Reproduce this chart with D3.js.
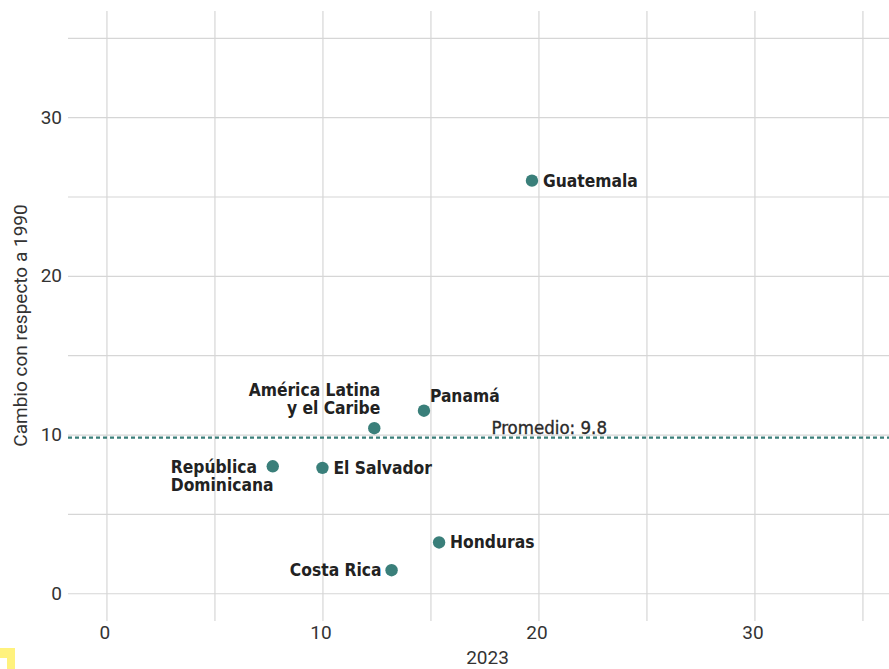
<!DOCTYPE html>
<html>
<head>
<meta charset="utf-8">
<script src="https://cdn.jsdelivr.net/npm/d3@7"></script>
<style>
  html, body { margin: 0; padding: 0; background: #fff; }
  svg { display: block; }
</style>
</head>
<body>
<svg id="chart" width="889" height="669"></svg>
<script>
// Data
const countries = ["Guatemala", "Panamá", "América Latina y el Caribe", "República Dominicana", "El Salvador", "Honduras", "Costa Rica"];
const xValues = [19.7, 14.7, 12.4, 7.7, 10.0, 15.4, 13.2];   // 2023
const yValues = [26.0, 11.5, 10.4, 8.0, 7.9, 3.2, 1.45];      // cambio con respecto a 1990
const labelLines = [["Guatemala"], ["Panamá"], ["América Latina", "y el Caribe"], ["República", "Dominicana"], ["El Salvador"], ["Honduras"], ["Costa Rica"]];
const labelPos = ["right", "upright", "upleft", "left2", "right", "right", "left"];
const gridTicks = [0, 5, 10, 15, 20, 25, 30, 35];
const tickLabels = [0, 10, 20, 30];
const averageValue = 9.8;
const averageLabel = "Promedio: 9.8";
const xTitle = "2023";
const yTitle = "Cambio con respecto a 1990";

(function () {
const svg = d3.select("#chart");
const mLeft = 68, mRight = 889, mTop = 11, mBottom = 621;

const x = d3.scaleLinear().domain([-1.78, 36.23]).range([mLeft, mRight]);
const y = d3.scaleLinear().domain([-1.75, 36.69]).range([mBottom, mTop]);

const gridColor = "#d6d6d6";
const tickFont = "Roboto, 'Noto Sans', sans-serif";
const labelFont = "'DejaVu Sans Condensed', 'Liberation Sans Narrow', sans-serif";

// Vertical gridlines
svg.append("g").attr("class", "xgrid")
  .attr("transform", `translate(0,${mTop})`)
  .call(d3.axisBottom(x).tickValues(gridTicks).tickSize(mBottom - mTop).tickFormat(""))
  .call(g => g.select(".domain").remove())
  .call(g => g.selectAll("line").attr("stroke", gridColor).attr("stroke-width", 1.2));

// Horizontal gridlines
svg.append("g").attr("class", "ygrid")
  .attr("transform", `translate(${mLeft},0)`)
  .call(d3.axisRight(y).tickValues(gridTicks).tickSize(mRight - mLeft).tickFormat(""))
  .call(g => g.select(".domain").remove())
  .call(g => g.selectAll("line").attr("stroke", gridColor).attr("stroke-width", 1.2));

// Y tick labels
svg.append("g")
  .attr("transform", `translate(${mLeft},0)`)
  .call(d3.axisLeft(y).tickValues(tickLabels).tickSize(0).tickPadding(6))
  .call(g => g.select(".domain").remove())
  .call(g => g.selectAll("text").attr("font-family", tickFont).attr("font-size", 19).attr("fill", "#333"));

// X tick labels
svg.append("g")
  .attr("transform", `translate(0,${mBottom})`)
  .call(d3.axisBottom(x).tickValues(tickLabels).tickSize(0).tickPadding(4))
  .call(g => g.select(".domain").remove())
  .call(g => g.selectAll("text").attr("font-family", tickFont).attr("font-size", 19).attr("fill", "#333").attr("dx", -2));

// Axis titles
svg.append("text")
  .attr("x", (mLeft + mRight) / 2 + 9)
  .attr("y", 664)
  .attr("text-anchor", "middle")
  .attr("font-family", tickFont).attr("font-size", 19).attr("fill", "#333")
  .text(xTitle);

svg.append("text")
  .attr("transform", `translate(27,${(205 + 446) / 2}) rotate(-90)`)
  .attr("text-anchor", "middle")
  .attr("font-family", tickFont).attr("font-size", 19).attr("fill", "#333")
  .text(yTitle);

// Average line
svg.append("line")
  .attr("x1", mLeft).attr("x2", mRight)
  .attr("y1", y(averageValue)).attr("y2", y(averageValue))
  .attr("stroke", "#3a7f7a").attr("stroke-width", 2.2)
  .attr("stroke-dasharray", "4,3");

svg.append("text")
  .attr("x", x(20.5))
  .attr("y", y(averageValue) - 4)
  .attr("text-anchor", "middle")
  .attr("font-family", labelFont).attr("font-size", 18.5).attr("fill", "#2a2a2a")
  .attr("stroke", "#2a2a2a").attr("stroke-width", 0.35)
  .text(averageLabel);

// Points
const data = countries.map((c, i) => ({ name: c, x: xValues[i], y: yValues[i], lines: labelLines[i], pos: labelPos[i] }));

svg.append("g").selectAll("circle")
  .data(data).join("circle")
  .attr("cx", d => x(d.x)).attr("cy", d => y(d.y))
  .attr("r", 6.2)
  .attr("fill", "#3a7f7a");

// Labels
const lg = svg.append("g")
  .attr("font-family", labelFont).attr("font-size", 17.3).attr("font-weight", "bold").attr("fill", "#222");

data.forEach(d => {
  const cx = x(d.x), cy = y(d.y);
  let tx, ty, anchor;
  if (d.pos === "right") { tx = cx + 11; ty = cy + 6; anchor = "start"; }
  else if (d.pos === "left") { tx = cx - 10; ty = cy + 6; anchor = "end"; }
  else if (d.pos === "upright") { tx = cx + 6; ty = cy - 9; anchor = "start"; }
  else if (d.pos === "upleft") { tx = cx + 6; ty = cy - 32; anchor = "end"; }
  else if (d.pos === "left2") { tx = cx - 102; ty = cy + 7; anchor = "start"; }
  const t = lg.append("text").attr("x", tx).attr("y", ty).attr("text-anchor", anchor);
  d.lines.forEach((ln, i) => {
    t.append("tspan").attr("x", tx).attr("dy", i === 0 ? 0 : 17.5).text(ln);
  });
});

// Corner mark (yellow)
svg.append("rect").attr("x", 0).attr("y", 648).attr("width", 15).attr("height", 21).attr("fill", "#fff27d");
svg.append("rect").attr("x", 0).attr("y", 658).attr("width", 7).attr("height", 11).attr("fill", "#ffffff");
})();
</script>
</body>
</html>
